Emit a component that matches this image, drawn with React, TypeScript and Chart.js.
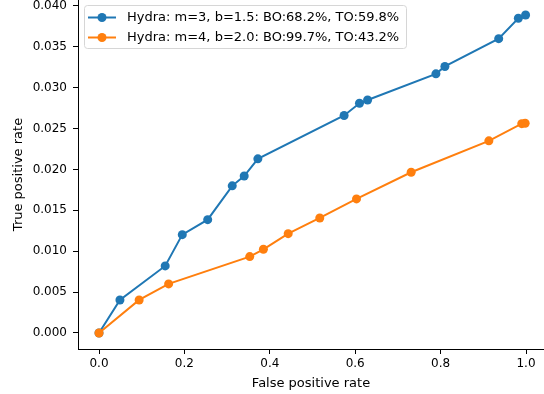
import React, { useEffect, useRef } from "react";
import { Chart, registerables } from "chart.js";

Chart.register(...registerables);

const seriesLabels = [
  "Hydra: m=3, b=1.5: BO:68.2%, TO:59.8%",
  "Hydra: m=4, b=2.0: BO:99.7%, TO:43.2%",
];
const seriesColors = ["#1f77b4", "#ff7f0e"];

const blueFpr = [0, 0.049, 0.155, 0.195, 0.2545, 0.312, 0.34, 0.372, 0.574, 0.61, 0.629, 0.789, 0.81, 0.936, 0.982, 0.999];
const blueTpr = [0, 0.00404, 0.0082, 0.01203, 0.01386, 0.018, 0.0192, 0.0213, 0.0266, 0.0281, 0.0285, 0.0317, 0.0326, 0.036, 0.0385, 0.0389];

const orangeFpr = [0, 0.094, 0.163, 0.353, 0.385, 0.443, 0.517, 0.603, 0.731, 0.913, 0.99, 0.998];
const orangeTpr = [0, 0.00404, 0.006, 0.00934, 0.01024, 0.01215, 0.01407, 0.0164, 0.01966, 0.0235, 0.0256, 0.02565];

const xTicks = [0, 0.2, 0.4, 0.6, 0.8, 1.0];
const yTicks = [0, 0.005, 0.01, 0.015, 0.02, 0.025, 0.03, 0.035, 0.04];

const FONT = "'DejaVu Sans', sans-serif";

const legendPlugin = {
  id: "mplLegend",
  afterDraw(chart: any) {
    const ctx = chart.ctx as CanvasRenderingContext2D;
    ctx.save();
    const bx = 84.5, by = 5.5, bw = 322, bh = 43;
    ctx.beginPath();
    (ctx as any).roundRect(bx, by, bw, bh, 3);
    ctx.fillStyle = "rgba(255,255,255,0.8)";
    ctx.fill();
    ctx.strokeStyle = "#d6d6d6";
    ctx.lineWidth = 1;
    ctx.stroke();
    seriesLabels.forEach((label, i) => {
      const y = 17.5 + i * 20;
      ctx.strokeStyle = seriesColors[i];
      ctx.lineWidth = 2;
      ctx.beginPath();
      ctx.moveTo(88, y);
      ctx.lineTo(116, y);
      ctx.stroke();
      ctx.fillStyle = seriesColors[i];
      ctx.beginPath();
      ctx.arc(102, y, 4.5, 0, Math.PI * 2);
      ctx.fill();
      ctx.fillStyle = "#000";
      ctx.font = `13px ${FONT}`;
      ctx.textBaseline = "middle";
      ctx.textAlign = "left";
      ctx.fillText(label, 127, y + 0.5);
    });
    ctx.restore();
  },
};

const zeroPad = (s: any) => {
  s.paddingTop = 0;
  s.paddingBottom = 0;
  s.paddingLeft = 0;
  s.paddingRight = 0;
};

export default function App() {
  const ref = useRef<HTMLCanvasElement>(null);
  useEffect(() => {
    if (!ref.current) return;
    const mk = (xs: number[], ys: number[]) => xs.map((x, i) => ({ x, y: ys[i] }));
    const chart = new Chart(ref.current, {
      type: "line",
      data: {
        datasets: [
          {
            label: seriesLabels[0],
            data: mk(blueFpr, blueTpr),
            borderColor: seriesColors[0],
            backgroundColor: seriesColors[0],
            borderWidth: 2,
            pointRadius: 4.5,
            pointHoverRadius: 4.5,
            pointBorderWidth: 0,
            tension: 0,
            order: 1,
            clip: false,
          },
          {
            label: seriesLabels[1],
            data: mk(orangeFpr, orangeTpr),
            borderColor: seriesColors[1],
            backgroundColor: seriesColors[1],
            borderWidth: 2,
            pointRadius: 4.5,
            pointHoverRadius: 4.5,
            pointBorderWidth: 0,
            tension: 0,
            order: 0,
            clip: false,
          },
        ],
      },
      options: {
        responsive: false,
        animation: false,
        layout: { autoPadding: false, padding: { left: 0, right: 0, top: 0, bottom: 0 } },
        plugins: { legend: { display: false }, tooltip: { enabled: false } },
        scales: {
          x: {
            type: "linear",
            min: -0.0492,
            max: 1.0421,
            afterFit: (s: any) => { s.height = 45; zeroPad(s); },
            afterBuildTicks: (s: any) => { s.ticks = xTicks.map((v) => ({ value: v })); },
            grid: { drawOnChartArea: false, drawTicks: true, tickLength: 5, color: "#000", tickWidth: 1 },
            border: { display: true, color: "#000", width: 1 },
            ticks: {
              color: "#000",
              padding: 3,
              font: { family: FONT, size: 12 },
              maxRotation: 0,
              autoSkip: false,
              callback: (v: any) => Number(v).toFixed(1),
            },
            title: { display: true, text: "False positive rate", color: "#000", font: { family: FONT, size: 13 }, padding: { top: 0, bottom: 3 } },
          },
          y: {
            type: "linear",
            min: -0.00196,
            max: 0.04073,
            afterFit: (s: any) => { s.width = 78; zeroPad(s); },
            afterBuildTicks: (s: any) => { s.ticks = yTicks.map((v) => ({ value: v })); },
            grid: { drawOnChartArea: false, drawTicks: true, tickLength: 5, color: "#000", tickWidth: 1 },
            border: { display: true, color: "#000", width: 1 },
            ticks: {
              color: "#000",
              padding: 6,
              autoSkip: false,
              font: { family: FONT, size: 12 },
              callback: (v: any) => Number(v).toFixed(3),
            },
            title: { display: true, text: "True positive rate", color: "#000", font: { family: FONT, size: 13 }, padding: { top: 11, bottom: 0 } },
          },
        },
      },
      plugins: [legendPlugin],
    } as any);
    return () => chart.destroy();
  }, []);
  return (
    <div style={{ position: "absolute", left: 0, top: 0, width: 544, height: 394, background: "#fff" }}>
      <canvas ref={ref} width={544} height={394} />
    </div>
  );
}
